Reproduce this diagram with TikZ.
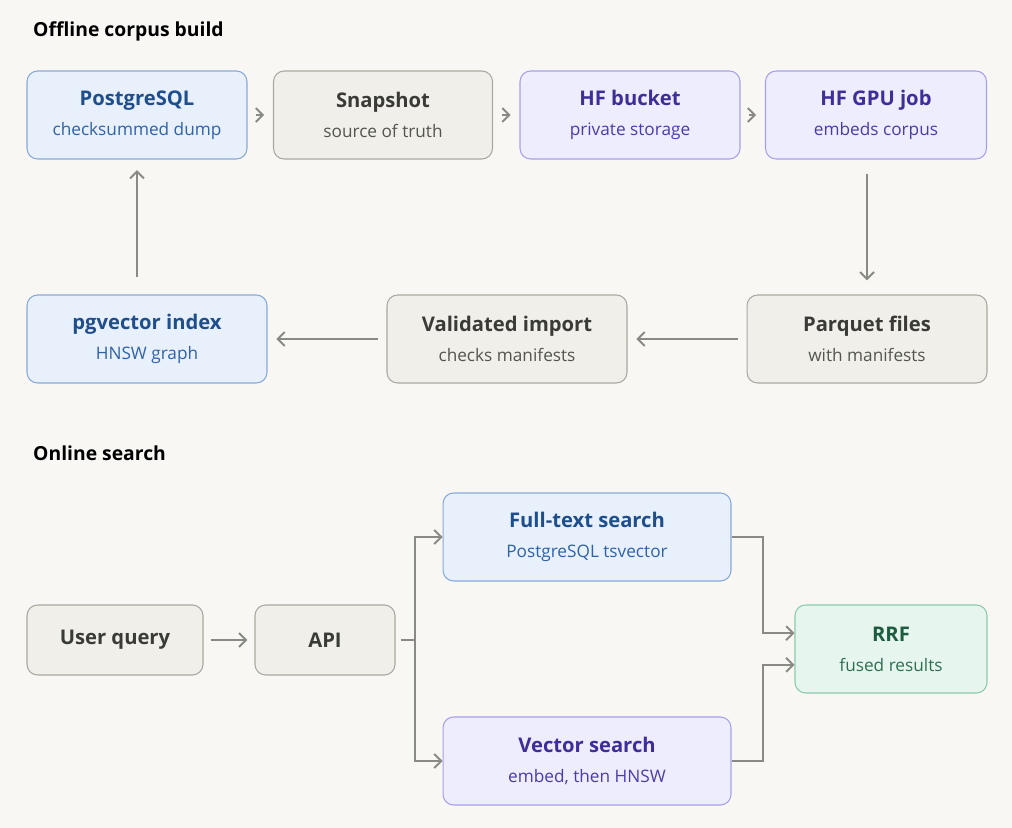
\documentclass[tikz,border=0pt]{standalone}
\usepackage{fontspec}
\setmainfont{Open Sans}
\usetikzlibrary{arrows.meta,positioning}
\definecolor{bgc}{HTML}{F8F7F3}
\definecolor{bluefill}{HTML}{E8F0FB}
\definecolor{blueline}{HTML}{86A9DA}
\definecolor{bluetext}{HTML}{1F4E8C}
\definecolor{bluesub}{HTML}{2F62A8}
\definecolor{grayfill}{HTML}{F0EFEA}
\definecolor{grayline}{HTML}{AAA8A0}
\definecolor{graytext}{HTML}{3A3A36}
\definecolor{graysub}{HTML}{55554F}
\definecolor{purpfill}{HTML}{EEEDFD}
\definecolor{purpline}{HTML}{A79FEA}
\definecolor{purptext}{HTML}{3F2E9A}
\definecolor{purpsub}{HTML}{4A3CAA}
\definecolor{greenfill}{HTML}{E6F5EE}
\definecolor{greenline}{HTML}{8CCBAE}
\definecolor{greentext}{HTML}{1E5C40}
\definecolor{greensub}{HTML}{2E7052}
\definecolor{arrowc}{HTML}{8A8A85}

\tikzset{
  box/.style={rounded corners=6pt, line width=0.6pt, minimum height=1.76cm, align=center, inner sep=0pt},
  bluebox/.style={box, fill=bluefill, draw=blueline},
  graybox/.style={box, fill=grayfill, draw=grayline},
  purpbox/.style={box, fill=purpfill, draw=purpline},
  greenbox/.style={box, fill=greenfill, draw=greenline},
  flow/.style={draw=arrowc, line width=1.1pt, -{Straight Barb[length=4pt,width=8pt]}},
  section/.style={anchor=west, font=\fontsize{11}{13}\selectfont\bfseries, text=black}
}
\newcommand{\twoline}[4]{{\color{#1}\fontsize{11.5}{14}\selectfont\bfseries #2}\\[5pt]{\color{#3}\fontsize{9.8}{12}\selectfont #4}}

\begin{document}
\begin{tikzpicture}[x=0.02cm, y=-0.02cm]
  \fill[bgc] (0,0) rectangle (1012,828);
  \useasboundingbox (0,0) rectangle (1012,828);

  % offline corpus build
  \node[section] (offtitle) at (27,31) {Offline corpus build};
  \node[bluebox, minimum width=4.4cm] (pg) at (137,115) {\twoline{bluetext}{PostgreSQL}{bluesub}{checksummed dump}};
  \node[graybox, minimum width=4.38cm] (snap) at (383,115) {\twoline{graytext}{Snapshot}{graysub}{source of truth}};
  \node[purpbox, minimum width=4.4cm] (bucket) at (630,115) {\twoline{purptext}{HF bucket}{purpsub}{private storage}};
  \node[purpbox, minimum width=4.42cm] (gpu) at (876,115) {\twoline{purptext}{HF GPU job}{purpsub}{embeds corpus}};
  \node[bluebox, minimum width=4.8cm] (pgv) at (147,339) {\twoline{bluetext}{pgvector index}{bluesub}{HNSW graph}};
  \node[graybox, minimum width=4.8cm] (valid) at (507,339) {\twoline{graytext}{Validated import}{graysub}{checks manifests}};
  \node[graybox, minimum width=4.8cm] (parq) at (867,339) {\twoline{graytext}{Parquet files}{graysub}{with manifests}};

  \draw[flow] ([xshift=5pt]pg.east) -- ([xshift=-5pt]snap.west);
  \draw[flow] ([xshift=5pt]snap.east) -- ([xshift=-5pt]bucket.west);
  \draw[flow] ([xshift=5pt]bucket.east) -- ([xshift=-5pt]gpu.west);
  \draw[flow] ([yshift=-8pt]gpu.south -| parq.north) ++(0,0) -- ([yshift=8pt]parq.north);
  \draw[flow] ([xshift=-5pt]parq.west) -- ([xshift=5pt]valid.east);
  \draw[flow] ([xshift=-5pt]valid.west) -- ([xshift=5pt]pgv.east);
  \draw[flow] ([yshift=10pt]pgv.north -| pg.south) -- ([yshift=-6pt]pg.south);

  % online search
  \node[section] (ontitle) at (27,453) {Online search};
  \node[graybox, minimum width=3.52cm, minimum height=1.4cm] (query) at (115,640) {{\color{graytext}\fontsize{11.5}{14}\selectfont\bfseries User query}};
  \node[graybox, minimum width=2.8cm, minimum height=1.4cm] (api) at (325,640) {{\color{graytext}\fontsize{11.5}{14}\selectfont\bfseries API}};
  \node[bluebox, minimum width=5.76cm] (fts) at (587,537) {\twoline{bluetext}{Full-text search}{bluesub}{PostgreSQL tsvector}};
  \node[purpbox, minimum width=5.76cm] (vec) at (587,761) {\twoline{purptext}{Vector search}{purpsub}{embed, then HNSW}};
  \node[greenbox, minimum width=3.84cm] (rrf) at (891,649) {\twoline{greentext}{RRF}{greensub}{fused results}};
  \coordinate (fork) at (415,640);
  \coordinate (join) at (763,649);

  \draw[flow] ([xshift=4pt]query.east) -- ([xshift=-4pt]api.west);
  \draw[draw=arrowc, line width=1.1pt] ([xshift=3pt]api.east) -- (fork);
  \draw[flow] (fork) |- (fts.west);
  \draw[flow] (fork) |- (vec.west);
  \draw[flow] (fts.east) -| ([yshift=9pt]join) -- ([yshift=9pt]rrf.west);
  \draw[flow] (vec.east) -| ([yshift=-9pt]join) -- ([yshift=-9pt]rrf.west);
\end{tikzpicture}
\end{document}
